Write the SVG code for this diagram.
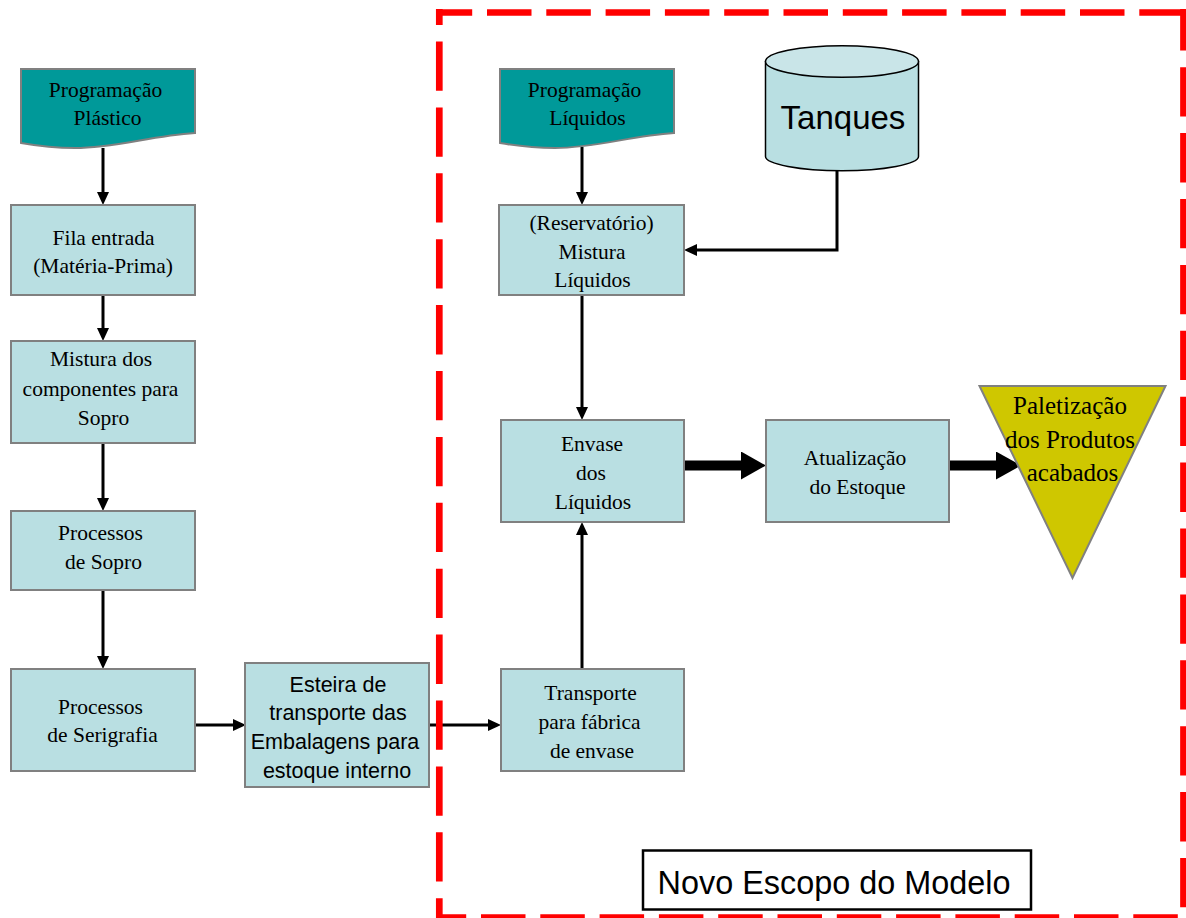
<svg xmlns="http://www.w3.org/2000/svg" width="1186" height="918" viewBox="0 0 1186 918">
<style>
.box{fill:#b9dfe2;stroke:#808080;stroke-width:2}
.doc{fill:#009999;stroke:#808080;stroke-width:2}
.t{font-family:"Liberation Serif",serif;font-size:21.5px;fill:#000;text-anchor:middle}
.s{font-family:"Liberation Sans",sans-serif;font-size:21.5px;fill:#000;text-anchor:middle}
.p{font-family:"Liberation Serif",serif;font-size:25px;fill:#000;text-anchor:middle}
.c{fill:none;stroke:#000;stroke-width:3}
.k{fill:none;stroke:#000;stroke-width:10}
.h{fill:none;stroke:#ff0000;stroke-width:6.7;stroke-dasharray:44.5 14.8}
.v{fill:none;stroke:#ff0000;stroke-width:6.7;stroke-dasharray:49.3 16.6}
</style>
<defs>
<marker id="a" markerUnits="userSpaceOnUse" markerWidth="14" markerHeight="14" refX="1" refY="7" orient="auto"><path d="M0 1L13 7L0 13z" fill="#000"/></marker>
<marker id="b" markerUnits="userSpaceOnUse" markerWidth="26" markerHeight="28" refX="1" refY="14" orient="auto"><path d="M0 0L25 14L0 28z" fill="#000"/></marker>
</defs>
<g id="connectors">
<path class="c" d="M103 148V193" marker-end="url(#a)"/>
<path class="c" d="M103 295V329" marker-end="url(#a)"/>
<path class="c" d="M103 443V499" marker-end="url(#a)"/>
<path class="c" d="M103 590V657" marker-end="url(#a)"/>
<path class="c" d="M194 725H234" marker-end="url(#a)"/>
<path class="c" d="M428 725H489" marker-end="url(#a)"/>
<path class="c" d="M582 147V193" marker-end="url(#a)"/>
<path class="c" d="M837 170V250H696" marker-end="url(#a)"/>
<path class="c" d="M582 295V408" marker-end="url(#a)"/>
<path class="c" d="M582 669V534" marker-end="url(#a)"/>
<path class="k" d="M684 465.5H742" marker-end="url(#b)"/>
<path class="k" d="M949 465.5H997" marker-end="url(#b)"/>
</g>
<g id="escopo">
<path class="h" d="M436 12.5H1186" stroke-dashoffset="8.3"/>
<path class="h" d="M436 917.5H1186" stroke-dashoffset="14.3"/>
<path class="v" d="M439.3 9V918" stroke-dashoffset="33.4"/>
<path class="v" d="M1183.5 9V918" stroke-dashoffset="7.7"/>
</g>
<g id="prog-plastico"><path class="doc" d="M21 69H195V133C150 136 115 148 75 148C55 148 38 146 21 143Z"/><text class="t" x="105.500" y="97">Programação</text><text class="t" x="107.500" y="125">Plástico</text></g>
<g id="fila"><rect class="box" x="11" y="205" width="184" height="90"/><text class="t" x="103.500" y="245">Fila entrada</text><text class="t" x="103" y="273">(Matéria-Prima)</text></g>
<g id="mistura"><rect class="box" x="11" y="341" width="184" height="102"/><text class="t" x="101" y="366">Mistura dos</text><text class="t" x="100.500" y="396">componentes para</text><text class="t" x="103.500" y="425">Sopro</text></g>
<g id="sopro"><rect class="box" x="11" y="511" width="184" height="79"/><text class="t" x="100.500" y="540">Processos</text><text class="t" x="103.500" y="569">de Sopro</text></g>
<g id="serigrafia"><rect class="box" x="11" y="669" width="184" height="102"/><text class="t" x="100.500" y="714">Processos</text><text class="t" x="102.500" y="742">de Serigrafia</text></g>
<g id="esteira"><rect class="box" x="245" y="663" width="184" height="124"/><text class="s" x="338" y="692">Esteira de</text><text class="s" x="338" y="720">transporte das</text><text class="s" x="335" y="749">Embalagens para</text><text class="s" x="337" y="778">estoque interno</text></g>
<g id="prog-liquidos"><path class="doc" d="M500 69H674V133C630 136 595 148 555 148C535 148 517 146 500 143Z"/><text class="t" x="584.500" y="97">Programação</text><text class="t" x="587.500" y="125">Líquidos</text></g>
<g id="tanques"><path d="M765.500 61.500V156.500C765.500 164 800 170.700 842 170.700C884 170.700 918.500 164 918.500 156.500V61.500Z" fill="#b9dfe2" stroke="#000" stroke-width="1.500"/><ellipse cx="842" cy="61.500" rx="76.500" ry="15.800" fill="#c9e5e8" stroke="#000" stroke-width="1.500"/><text x="843" y="129" font-family="Liberation Sans, sans-serif" font-size="33" text-anchor="middle">Tanques</text></g>
<g id="reservatorio"><rect class="box" x="499" y="205" width="185" height="90"/><text class="t" x="591.500" y="230">(Reservatório)</text><text class="t" x="592" y="259">Mistura</text><text class="t" x="592.500" y="287">Líquidos</text></g>
<g id="envase"><rect class="box" x="501" y="420" width="183" height="102"/><text class="t" x="592" y="451">Envase</text><text class="t" x="591" y="480">dos</text><text class="t" x="593" y="509">Líquidos</text></g>
<g id="transporte"><rect class="box" x="501" y="669" width="183" height="102"/><text class="t" x="590.500" y="700">Transporte</text><text class="t" x="589.500" y="729">para fábrica</text><text class="t" x="592" y="758">de envase</text></g>
<g id="atualizacao"><rect class="box" x="766" y="420" width="183" height="102"/><text class="t" x="855" y="465">Atualização</text><text class="t" x="857.500" y="494">do Estoque</text></g>
<g id="paletizacao"><path d="M979.500 386H1165.500L1072.500 578Z" fill="#cfc700" stroke="#808080" stroke-width="2"/><text class="p" x="1070" y="414">Paletização</text><text class="p" x="1070" y="448">dos Produtos</text><text class="p" x="1072.500" y="481">acabados</text></g>
<g id="novo-escopo"><rect x="643" y="850.500" width="388" height="59" fill="#fff" stroke="#000" stroke-width="2.500"/><text x="834" y="894" font-family="Liberation Sans, sans-serif" font-size="32.400" text-anchor="middle">Novo Escopo do Modelo</text></g>
</svg>
